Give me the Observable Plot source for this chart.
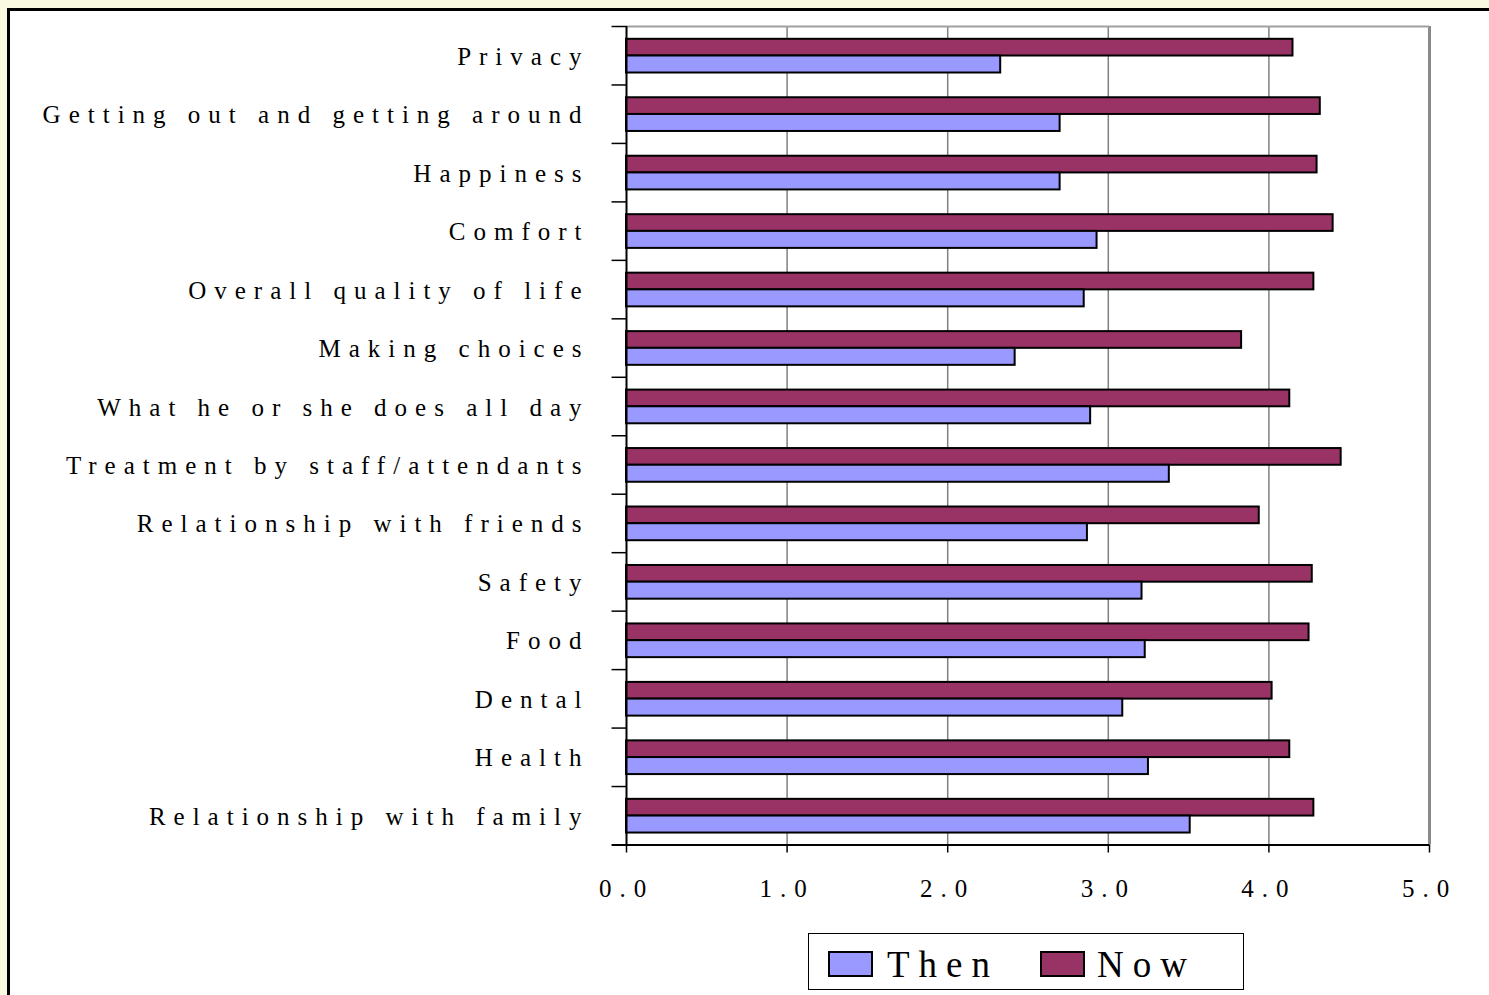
<!DOCTYPE html>
<html>
<head>
<meta charset="utf-8">
<script src="https://cdn.jsdelivr.net/npm/d3@7"></script>
<script src="https://cdn.jsdelivr.net/npm/@observablehq/plot@0.6"></script>
<style>
  html, body { margin: 0; padding: 0; }
  body { background: #FAFAE3; width: 1489px; height: 995px; overflow: hidden; position: relative; font-family: "Liberation Serif", "Times New Roman", serif; }
  #box { position: absolute; left: 7px; top: 8px; width: 1500px; height: 1000px; border: 3px solid #000; background: #fff; box-sizing: border-box; }
  #chart { position: absolute; left: 0; top: 0; line-height: 0; }
  #chart svg { background: transparent !important; display: block; }
  #chart svg text { letter-spacing: 8px; }
  #legend { position: absolute; left: 808px; top: 933px; width: 436px; height: 57px; border: 1px solid #000; background: #fff; box-sizing: border-box; }
  .sw { position: absolute; top: 17px; width: 45px; height: 26px; border: 2px solid #000; box-sizing: border-box; }
  .lt { position: absolute; top: 9px; font-size: 37px; letter-spacing: 9px; line-height: 44px; color: #000; }
</style>
</head>
<body>
<div id="box"></div>
<div id="chart"></div>
<div id="legend">
  <div class="sw" style="left:19px;background:#9999FF"></div>
  <div class="lt" style="left:78px">Then</div>
  <div class="sw" style="left:231px;background:#993366"></div>
  <div class="lt" style="left:288px">Now</div>
</div>
<script>
const categories = [
  "Privacy",
  "Getting out and getting around",
  "Happiness",
  "Comfort",
  "Overall quality of life",
  "Making choices",
  "What he or she does all day",
  "Treatment by staff/attendants",
  "Relationship with friends",
  "Safety",
  "Food",
  "Dental",
  "Health",
  "Relationship with family"
];
const thenValues = [2.33, 2.70, 2.70, 2.93, 2.85, 2.42, 2.89, 3.38, 2.87, 3.21, 3.23, 3.09, 3.25, 3.51];
const nowValues  = [4.15, 4.32, 4.30, 4.40, 4.28, 3.83, 4.13, 4.45, 3.94, 4.27, 4.25, 4.02, 4.13, 4.28];
const xTicks = [0, 1, 2, 3, 4, 5];
const gridTicks = [1, 2, 3, 4];

const thenData = categories.map((c, i) => ({category: c, value: thenValues[i]}));
const nowData = categories.map((c, i) => ({category: c, value: nowValues[i]}));

const W = 1489, H = 930;
const mL = 626, mR = 60, mT = 26, mB = 85.5;
const band = (H - mT - mB) / categories.length;
const half = band / 2;
const tickLen = 0.09;

const chart = Plot.plot({
  width: W,
  height: H,
  marginLeft: mL,
  marginRight: mR,
  marginTop: mT,
  marginBottom: mB,
  style: {fontFamily: "'Liberation Serif', 'Times New Roman', serif", fontSize: "25px", color: "#000", background: "transparent"},
  x: {domain: [0, 5]},
  y: {domain: categories, padding: 0, round: false},
  marks: [
    Plot.ruleX(gridTicks, {stroke: "#808080", strokeWidth: 1.5}),
    Plot.ruleX([5], {stroke: "#8a8a8a", strokeWidth: 3}),
    Plot.ruleY([categories[0]], {x1: 0, x2: 5, dy: -half, stroke: "#a0a0a0", strokeWidth: 2}),
    Plot.barX(nowData, {y: "category", x: "value", fill: "#993366", stroke: "#000", strokeWidth: 2, insetTop: 12.8, insetBottom: band - 29.5}),
    Plot.barX(thenData, {y: "category", x: "value", fill: "#9999FF", stroke: "#000", strokeWidth: 2, insetTop: 29.5, insetBottom: band - 46.5}),
    Plot.ruleY(categories, {x1: -tickLen, x2: 0, dy: -half, stroke: "#000", strokeWidth: 1.5, clip: false}),
    Plot.ruleY([categories[categories.length - 1]], {x1: -tickLen, x2: 5, dy: half, stroke: "#000", strokeWidth: 2}),
    Plot.ruleX([0], {stroke: "#000", strokeWidth: 2}),
    Plot.axisY({tickSize: 0, tickPadding: 37, fontSize: 25, label: null, dy: 1}),
    Plot.axisX({ticks: xTicks, tickSize: 8, tickPadding: 26, tickFormat: d3.format(".1f"), fontSize: 25, label: null, strokeWidth: 1.5})
  ]
});
document.getElementById("chart").appendChild(chart);
</script>
</body>
</html>
